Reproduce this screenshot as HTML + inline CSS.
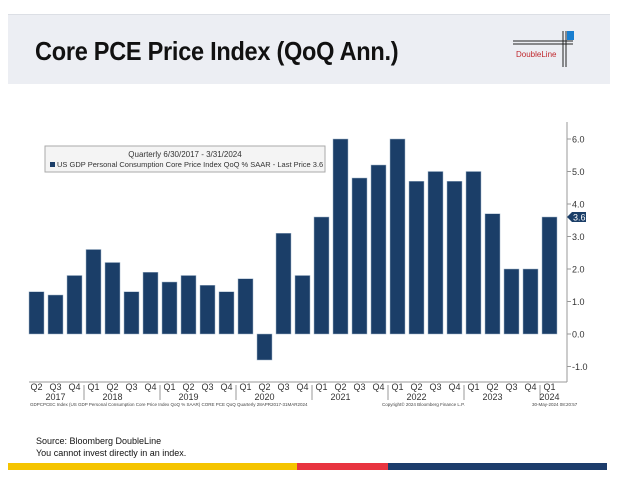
<!DOCTYPE html>
<html><head><meta charset="utf-8"><style>
body{margin:0;width:625px;height:485px;background:#fff;font-family:"Liberation Sans",sans-serif;overflow:hidden;position:relative}
.hdr{position:absolute;left:8px;top:14px;width:602px;height:69px;background:#eceef3;border-top:1px solid #dcdfe5}
.ttl{position:absolute;left:27px;top:21px;font-size:26px;font-weight:bold;color:#111;letter-spacing:-0.3px;transform:scaleX(0.905);transform-origin:0 0;white-space:nowrap}
.src{position:absolute;left:36px;font-size:9px;color:#111}
.bar{position:absolute;top:463px;height:7px}
</style></head><body>
<div class="hdr">
<div class="ttl">Core PCE Price Index (QoQ Ann.)</div>
<svg style="position:absolute;left:505px;top:16px" width="80" height="36">
<line x1="0" y1="10" x2="60" y2="10" stroke="#222" stroke-width="1"/><line x1="0" y1="13" x2="60" y2="13" stroke="#222" stroke-width="1"/>
<line x1="50" y1="0" x2="50" y2="36" stroke="#222"/><line x1="53" y1="0" x2="53" y2="36" stroke="#222"/>
<rect x="54" y="0" width="7" height="9" fill="#1a7fd0"/>
<text x="3" y="26" font-size="8" fill="#c0282d" font-family="Liberation Sans">DoubleLine</text></svg>
</div>
<svg id="c" width="625" height="485" style="position:absolute;left:0;top:0"></svg>
<div class="src" style="top:436px">Source: Bloomberg DoubleLine</div>
<div class="src" style="top:448px">You cannot invest directly in an index.</div>
<div class="bar" style="left:8px;width:289px;background:#f5c400"></div>
<div class="bar" style="left:297px;width:91px;background:#e8343f"></div>
<div class="bar" style="left:388px;width:219px;background:#1d3c6b"></div>
<script>
const quarters=["Q2","Q3","Q4","Q1","Q2","Q3","Q4","Q1","Q2","Q3","Q4","Q1","Q2","Q3","Q4","Q1","Q2","Q3","Q4","Q1","Q2","Q3","Q4","Q1","Q2","Q3","Q4","Q1"];
const values=[1.3,1.2,1.8,2.6,2.2,1.3,1.9,1.6,1.8,1.5,1.3,1.7,-0.8,3.1,1.8,3.6,6.0,4.8,5.2,6.0,4.7,5.0,4.7,5.0,3.7,2.0,2.0,3.6];
const years=["2017","2018","2019","2020","2021","2022","2023","2024"];
const yearCenterIdx=[1,4,8,12,16,20,24,27];
const ticks=[-1,0,1,2,3,4,5,6];
const lastPrice=3.6;
const NS="http://www.w3.org/2000/svg",s=document.getElementById('c');
function y(v){return 334-v*32.5;}
function x(i){return 29+19*i;}
function el(t,a,txt){const e=document.createElementNS(NS,t);for(const k in a)e.setAttribute(k,a[k]);if(txt!=null)e.textContent=txt;s.appendChild(e);return e;}
let e;
e=el('line',{x1:29,y1:382,x2:567,y2:382,stroke:'#999'});


e=el('line',{x1:567,y1:122,x2:567,y2:382,stroke:'#999'});


ticks.forEach(t=>{
 el('line',{x1:567,x2:571,y1:y(t),y2:y(t),stroke:'#999'});
 e=el('text',{x:572,y:y(t)+3.5,'font-size':9,fill:'#333'},(t<0?'-':'')+Math.abs(t).toFixed(1));
 
 
});
values.forEach((v,i)=>{
 e=el('rect',{x:x(i),width:15,y:Math.min(y(v),y(0)),height:Math.abs(y(v)-y(0)),fill:'#1b3e68',stroke:'#9fb3c8','stroke-width':0.5});
 
 
 e=el('text',{x:x(i)+7.5,y:390,'font-size':9,fill:'#333','text-anchor':'middle'},quarters[i]);
 
 
 if(quarters[i]=='Q4'&&i>0){el('line',{x1:x(i)+17,x2:x(i)+17,y1:385,y2:400,stroke:'#999'});}
});
years.forEach((yr,j)=>{
 e=el('text',{x:x(yearCenterIdx[j])+7.5,y:400,'font-size':9,fill:'#333','text-anchor':'middle'},yr);
 
 
});
e=el('path',{d:`M567 ${y(lastPrice)} l5 -5 h14 v10 h-14 z`,fill:'#1b3e68'});


el('text',{x:573,y:y(lastPrice)+3.5,'font-size':9,fill:'#fff'},lastPrice.toFixed(1));
e=el('rect',{x:45,y:146,width:280,height:26,fill:'#f4f4f4',stroke:'#aaa'});


el('text',{x:185,y:157,'font-size':8,fill:'#333','text-anchor':'middle'},'Quarterly 6/30/2017 - 3/31/2024');
el('rect',{x:50,y:162,width:5,height:5,fill:'#1b3e68'});
e=el('text',{x:57,y:167,'font-size':7.5,fill:'#333'},'US GDP Personal Consumption Core Price Index QoQ % SAAR - Last Price 3.6');


el('text',{x:30,y:406,'font-size':4.5,fill:'#444'},'GDPCPCEC Index (US GDP Personal Consumption Core Price Index QoQ % SAAR) CORE PCE QoQ  Quarterly 28APR2017-31MAR2024');
el('text',{x:382,y:406,'font-size':4.5,fill:'#444'},'Copyright© 2024 Bloomberg Finance L.P.');
el('text',{x:532,y:406,'font-size':4.5,fill:'#444'},'30-May-2024 08:20:57');
</script>
</body></html>
